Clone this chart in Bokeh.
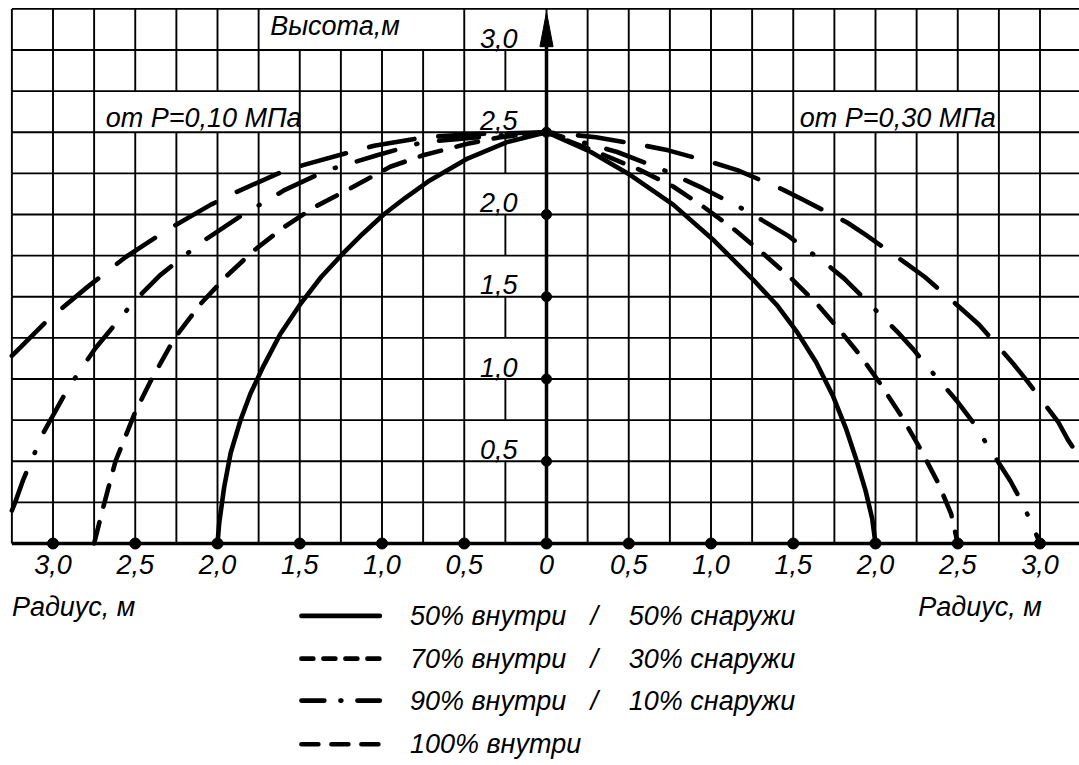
import numpy as np
from bokeh.plotting import figure
from bokeh.models import Range1d
from bokeh.core.properties import value
from bokeh.embed import file_html
from bokeh.resources import INLINE

# ---------------- data ----------------
# 50% inside / 50% outside (solid); left = P=0.10 MPa side, right = P=0.30 MPa side
s50_x = [-2.0, -1.99, -1.96, -1.92, -1.86, -1.80, -1.72, -1.62, -1.50, -1.37, -1.24, -1.12, -0.99,
         -0.86, -0.72, -0.48, -0.24, 0.0,
         0.27, 0.51, 0.77, 1.02, 1.26, 1.40, 1.52, 1.64, 1.74, 1.82, 1.88, 1.94, 1.98, 2.0]
s50_y = [0.0, 0.12, 0.34, 0.55, 0.75, 0.91, 1.08, 1.27, 1.45, 1.62, 1.76, 1.88, 2.0,
         2.10, 2.20, 2.34, 2.44, 2.5,
         2.38, 2.24, 2.06, 1.84, 1.60, 1.45, 1.29, 1.10, 0.90, 0.70, 0.52, 0.32, 0.15, 0.0]
# 70% inside / 30% outside (short dash)
s70_x = [-2.75, -2.70, -2.62, -2.50, -2.40, -2.26, -2.10, -1.94, -1.78, -1.60, -1.42, -1.19, -0.95,
         -0.75, -0.48, -0.28, 0.0, 0.28, 0.57, 0.77, 0.95, 1.14, 1.32, 1.50, 1.65, 1.78, 1.91, 2.03,
         2.16, 2.27, 2.38, 2.46, 2.5]
s70_y = [0.0, 0.2, 0.5, 0.8, 1.0, 1.25, 1.46, 1.63, 1.78, 1.92, 2.04, 2.16, 2.29,
         2.36, 2.43, 2.47, 2.5, 2.39, 2.27, 2.17, 2.05, 1.91, 1.76, 1.60, 1.45, 1.30, 1.14, 0.97,
         0.77, 0.58, 0.37, 0.18, 0.0]
# 90% inside / 10% outside (dash-dot)
s90_x = [-3.25, -3.23, -3.18, -3.12, -3.06, -2.91, -2.83, -2.74, -2.55, -2.45, -2.35, -2.10, -1.98,
         -1.86, -1.59, -1.33, -1.03, -0.75, -0.30, 0.0, 0.43, 0.69, 0.95, 1.22, 1.47, 1.70, 1.81,
         1.93, 2.13, 2.23, 2.32, 2.50, 2.59, 2.66, 2.82, 2.89, 2.95, 3.0]
s90_y = [0.20, 0.25, 0.39, 0.53, 0.67, 0.94, 1.06, 1.19, 1.42, 1.53, 1.63, 1.83, 1.91,
         1.99, 2.15, 2.27, 2.36, 2.44, 2.48, 2.5, 2.38, 2.28, 2.16, 2.02, 1.87, 1.70, 1.61,
         1.49, 1.29, 1.18, 1.07, 0.86, 0.74, 0.63, 0.38, 0.25, 0.12, 0.0]
# 100% inside (long dash)
s100_x = [-3.25, -3.03, -2.79, -2.56, -2.30, -2.04, -1.90, -1.63, -1.48, -1.19, -1.04, -0.74, -0.40,
          0.0, 0.30, 0.59, 0.74, 1.03, 1.16, 1.44, 1.56, 1.83, 1.95, 2.19, 2.30, 2.53, 2.63, 2.84,
          2.92, 3.11, 3.17, 3.25]
s100_y = [1.14, 1.36, 1.56, 1.74, 1.91, 2.06, 2.13, 2.25, 2.30, 2.38, 2.42, 2.47, 2.49,
          2.5, 2.47, 2.42, 2.39, 2.31, 2.27, 2.15, 2.09, 1.95, 1.87, 1.70, 1.62, 1.42, 1.33, 1.09,
          0.99, 0.74, 0.63, 0.51]

series_labels = ["50% внутри", "70% внутри", "90% внутри", "100% внутри"]
series_right = ["50% снаружи", "30% снаружи", "10% снаружи"]

x_ticks = [-3.0, -2.5, -2.0, -1.5, -1.0, -0.5, 0.0, 0.5, 1.0, 1.5, 2.0, 2.5, 3.0]
x_tick_labels = ["3,0", "2,5", "2,0", "1,5", "1,0", "0,5", "0", "0,5", "1,0", "1,5", "2,0", "2,5", "3,0"]
y_ticks = [0.5, 1.0, 1.5, 2.0, 2.5, 3.0]
y_tick_labels = ["0,5", "1,0", "1,5", "2,0", "2,5", "3,0"]
y_dots = [0.5, 1.0, 1.5, 2.0, 2.5]

left_note = "от Р=0,10 МПа"
right_note = "от Р=0,30 МПа"
y_title = "Высота,м"
x_title = "Радиус, м"

# ---------------- figure ----------------
S = 164.5               # pixels per metre (both axes)
W, H = 1079, 762
X0 = -546 / S
Y1 = 543 / S
p = figure(width=W, height=H, output_backend="svg", toolbar_location=None,
           x_axis_location=None, y_axis_location=None, min_border=0,
           x_range=Range1d(X0, X0 + W / S), y_range=Range1d(Y1 - H / S, Y1))
p.grid.visible = False
p.outline_line_color = None
p.background_fill_color = "white"

FONT = value("Liberation Sans")
FS = "27px"

# ---------------- grid (with blank label cells) ----------------
step = 0.25
gxmin = -3.25
boxes = [(-1.75, -0.5, 3.0, 3.25), (-0.5, 0.0, 3.0, 3.25),
         (-2.75, -1.5, 2.5, 2.75), (1.5, 2.75, 2.5, 2.75)]
boxes += [(-0.5, 0.0, t, t + 0.25) for t in y_dots]

vx0, vy0, vx1, vy1 = [], [], [], []
for i in range(27):
    gx = gxmin + step * i
    for j in range(13):
        ya, yb = step * j, step * (j + 1)
        skip = any(b[0] + 1e-6 < gx < b[1] - 1e-6 and abs(b[2] - ya) < 1e-6 for b in boxes)
        if not skip:
            vx0.append(gx); vx1.append(gx); vy0.append(ya); vy1.append(yb)
for j in range(1, 14):
    gy = step * j
    vx0.append(gxmin); vx1.append(3.4); vy0.append(gy); vy1.append(gy)
p.segment(vx0, vy0, vx1, vy1, line_color="black", line_width=1.9)

# ---------------- curves ----------------
common = dict(line_color="black", line_width=4.6, line_cap="round", line_join="round")
p.line(s50_x, s50_y, **common)
p.line(s70_x, s70_y, line_dash="22 16", **common)
p.line(s90_x, s90_y, line_dash="40 22 1 22", **common)
p.line(s100_x, s100_y, line_dash="46 24", **common)

# ---------------- axes ----------------
p.segment([gxmin], [0], [3.4], [0], line_color="black", line_width=3.5)
ytop = 3.23
p.segment([0], [0], [0], [ytop - 0.05], line_color="black", line_width=3.5)
hw, hl = 0.04, 0.21
p.patch([-hw, 0, hw], [ytop - hl, ytop, ytop - hl], fill_color="black", line_color="black")
p.scatter(x_ticks, [0] * len(x_ticks), size=11, color="black")
p.scatter([0] * len(y_dots), y_dots, size=10, color="black")

# ---------------- texts ----------------
txt = dict(text_font=FONT, text_font_style="italic", text_font_size=FS, text_color="black")
p.text(x_ticks, [-0.07] * len(x_ticks), text=x_tick_labels, text_align="center",
       text_baseline="top", **txt)
p.text([-0.29] * len(y_ticks), [t + 0.015 for t in y_ticks], text=y_tick_labels,
       text_align="center", text_baseline="bottom", **txt)
p.text([-1.68], [3.145], text=[y_title], text_align="left", text_baseline="middle", **txt)
p.text([-2.68, 1.54], [2.585, 2.585], text=[left_note, right_note], text_align="left",
       text_baseline="middle", **txt)
p.text([-3.25, 2.26], [-0.385, -0.385], text=[x_title, x_title], text_align="left",
       text_baseline="middle", **txt)

# ---------------- legend ----------------
rows = [-0.44, -0.70, -0.955, -1.22]
lx0, lx1 = -1.49, -1.013
dashes = ["solid", "12 10", "23 16 1 16", "17 13"]
for r, d in zip(rows, dashes):
    p.line([lx0, lx1], [r, r], line_color="black", line_width=4.6, line_cap="round", line_dash=d)
p.text([-0.83] * 4, rows, text=series_labels, text_align="left", text_baseline="middle", **txt)
p.text([0.29] * 3, rows[:3], text=["/"] * 3, text_align="center", text_baseline="middle", **txt)
p.text([0.50] * 3, rows[:3], text=series_right, text_align="left", text_baseline="middle", **txt)

open("out.html", "w").write(file_html(p, INLINE))
